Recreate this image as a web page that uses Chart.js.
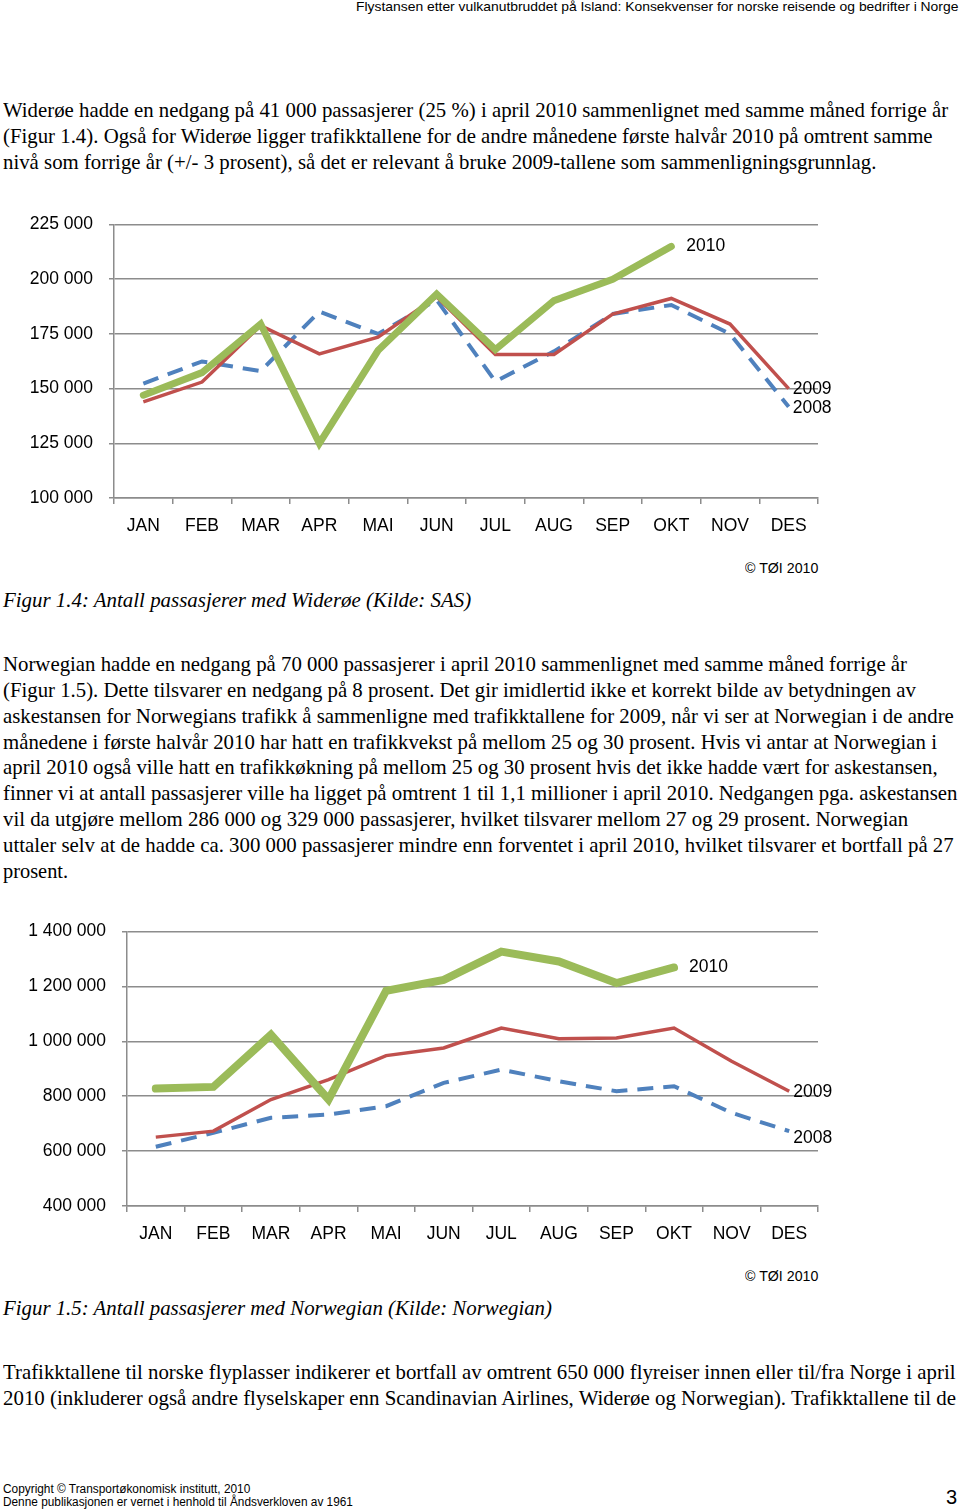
<!DOCTYPE html>
<html>
<head>
<meta charset="utf-8">
<script src="https://cdn.jsdelivr.net/npm/chart.js@4.4.1/dist/chart.umd.min.js"></script>
<style>
  body { margin: 0; background: #fff; width: 960px; height: 1512px; position: relative; overflow: hidden; }
  .t { position: absolute; left: 3px; white-space: nowrap; font-family: "Liberation Serif", "Times New Roman", serif; font-size: 21px; line-height: 21px; color: #000; transform-origin: 0 50%; }
  .cap { font-style: italic; }
  .s { position: absolute; white-space: nowrap; font-family: "Liberation Sans", Arial, sans-serif; color: #000; transform-origin: 0 50%; }
  .box { position: absolute; left: 0; width: 860px; }
</style>
</head>
<body>
<div class="s" style="left:356px;top:0px;font-size:13px;line-height:14px" data-w="602">Flystansen etter vulkanutbruddet på Island: Konsekvenser for norske reisende og bedrifter i Norge</div>

<div class="t" style="top:100px" data-w="945">Widerøe hadde en nedgang på 41 000 passasjerer (25 %) i april 2010 sammenlignet med samme måned forrige år</div>
<div class="t" style="top:126px" data-w="930">(Figur 1.4). Også for Widerøe ligger trafikktallene for de andre månedene første halvår 2010 på omtrent samme</div>
<div class="t" style="top:152px" data-w="873">nivå som forrige år (+/- 3 prosent), så det er relevant å bruke 2009-tallene som sammenligningsgrunnlag.</div>

<div class="box" style="top:197.5px;height:342.5px"><canvas id="chart1"></canvas></div>
<div class="s" style="left:745px;top:560px;font-size:14px;line-height:16px" data-w="73">© TØI 2010</div>
<div class="t cap" style="top:590px" data-w="468">Figur 1.4: Antall passasjerer med Widerøe (Kilde: SAS)</div>

<div class="t" style="top:654px" data-w="904">Norwegian hadde en nedgang på 70 000 passasjerer i april 2010 sammenlignet med samme måned forrige år</div>
<div class="t" style="top:680px" data-w="913">(Figur 1.5). Dette tilsvarer en nedgang på 8 prosent. Det gir imidlertid ikke et korrekt bilde av betydningen av</div>
<div class="t" style="top:706px" data-w="951">askestansen for Norwegians trafikk å sammenligne med trafikktallene for 2009, når vi ser at Norwegian i de andre</div>
<div class="t" style="top:732px" data-w="934">månedene i første halvår 2010 har hatt en trafikkvekst på mellom 25 og 30 prosent. Hvis vi antar at Norwegian i</div>
<div class="t" style="top:757px" data-w="935">april 2010 også ville hatt en trafikkøkning på mellom 25 og 30 prosent hvis det ikke hadde vært for askestansen,</div>
<div class="t" style="top:783px" data-w="954">finner vi at antall passasjerer ville ha ligget på omtrent 1 til 1,1 millioner i april 2010. Nedgangen pga. askestansen</div>
<div class="t" style="top:809px" data-w="905">vil da utgjøre mellom 286 000 og 329 000 passasjerer, hvilket tilsvarer mellom 27 og 29 prosent. Norwegian</div>
<div class="t" style="top:835px" data-w="951">uttaler selv at de hadde ca. 300 000 passasjerer mindre enn forventet i april 2010, hvilket tilsvarer et bortfall på 27</div>
<div class="t" style="top:861px" data-w="65">prosent.</div>

<div class="box" style="top:905px;height:345px"><canvas id="chart2"></canvas></div>
<div class="s" style="left:745px;top:1268px;font-size:14px;line-height:16px" data-w="73">© TØI 2010</div>
<div class="t cap" style="top:1298px" data-w="549">Figur 1.5: Antall passasjerer med Norwegian (Kilde: Norwegian)</div>

<div class="t" style="top:1362px" data-w="952">Trafikktallene til norske flyplasser indikerer et bortfall av omtrent 650 000 flyreiser innen eller til/fra Norge i april</div>
<div class="t" style="top:1388px" data-w="953">2010 (inkluderer også andre flyselskaper enn Scandinavian Airlines, Widerøe og Norwegian). Trafikktallene til de</div>

<div class="s" style="left:3px;top:1483px;font-size:12px;line-height:13px" data-w="247">Copyright © Transportøkonomisk institutt, 2010</div>
<div class="s" style="left:3px;top:1496px;font-size:12px;line-height:13px" data-w="350">Denne publikasjonen er vernet i henhold til Åndsverkloven av 1961</div>
<div class="s" style="left:946px;top:1487px;font-size:20px;line-height:20px">3</div>

<script>
'use strict';
// text lines are squeezed to the measured widths of the scanned page
document.querySelectorAll('[data-w]').forEach(function(el){
  let w = +el.dataset.w
  el.style.transform = 'scaleX(' + (w / el.offsetWidth) + ')'
})

let months = ['JAN','FEB','MAR','APR','MAI','JUN','JUL','AUG','SEP','OKT','NOV','DES']

// Figur 1.4 Widerøe
let wf2008 = [152300,162400,158000,185200,175000,190500,153300,167000,184100,188200,175000,141700]
let wf2009 = [143900,153000,178800,165900,173500,192000,165600,165600,184100,191200,179500,150000]
let wf2010 = [147000,157300,179500,125000,167400,193200,167800,190200,200000,215000,null,null]
let wfTicks = [100000, 225000, 25000]

// Figur 1.5 Norwegian
let dy2008 = [615800,666700,721200,733300,763600,848500,897000,854500,818200,836400,739400,672700]
let dy2009 = [650900,672700,787900,860600,947900,975800,1048500,1009700,1012100,1048500,927300,818200]
let dy2010 = [827900,833900,1024000,787900,1184200,1224000,1327000,1290900,1212100,1269000,null,null]
let dyTicks = [400000, 1400000, 200000]

let green = '#9bbb59'
let red = '#c0504d'
let blue = '#4f81bd'
let gridGray = '#8c8c8c'
let tickFont = { family: '"Liberation Sans", Arial, sans-serif', size: 17.5 }

function spaced(v){
  return String(v).replace(/\B(?=(\d{3})+(?!\d))/g, ' ')
}

// writes the year next to the last point of each line
const endLabels = {
  id: 'endLabels',
  afterDatasetsDraw(chart){
    let ctx = chart.ctx
    ctx.save()
    ctx.font = '17.5px "Liberation Sans", Arial, sans-serif'
    ctx.fillStyle = '#000'
    ctx.textBaseline = 'middle'
    ctx.textAlign = 'left'
    chart.data.datasets.forEach(function(ds, i){
      let last = -1
      for(let k = 0; k < ds.data.length; k++){
        if(ds.data[k] !== null) last = k
      }
      let pt = chart.getDatasetMeta(i).data[last]
      ctx.fillText(ds.label, pt.x + ds.labelDx, pt.y + ds.labelDy)
    })
    ctx.restore()
  }
}

function makeChart(id, d2008, d2009, d2010, ticks, yWidth, xHeight, xPad, green2010Width, dy2008Label){
  return new Chart(document.getElementById(id), {
    type: 'line',
    data: {
      labels: months,
      datasets: [
        { label: '2010', data: d2010, borderColor: green, borderWidth: green2010Width, pointRadius: 0, tension: 0, spanGaps: false, borderCapStyle: 'round', borderJoinStyle: 'miter', labelDx: 15, labelDy: 0 },
        { label: '2009', data: d2009, borderColor: red, borderWidth: 3.5, pointRadius: 0, tension: 0, labelDx: 4, labelDy: 1 },
        { label: '2008', data: d2008, borderColor: blue, borderWidth: 4, borderDash: [16, 10], pointRadius: 0, tension: 0, labelDx: 4, labelDy: dy2008Label }
      ]
    },
    options: {
      responsive: true,
      maintainAspectRatio: false,
      animation: false,
      layout: { padding: { top: 0, right: 42, bottom: 0, left: 0 } },
      plugins: { legend: { display: false }, tooltip: { enabled: false } },
      scales: {
        x: {
          offset: true,
          grid: { offset: true, drawOnChartArea: false, drawTicks: true, tickLength: 6, color: gridGray, lineWidth: 1.5 },
          border: { display: true, color: gridGray, width: 1.5 },
          ticks: { font: tickFont, color: '#000', padding: xPad, maxRotation: 0 },
          afterFit: function(s){ s.height = xHeight }
        },
        y: {
          min: ticks[0],
          max: ticks[1],
          grid: { color: gridGray, lineWidth: 1.5, tickLength: 5 },
          border: { display: true, color: gridGray, width: 1.5 },
          ticks: { stepSize: ticks[2], font: tickFont, color: '#000', padding: 16, callback: function(v){ return spaced(v) } },
          afterFit: function(s){ s.width = yWidth }
        }
      }
    },
    plugins: [endLabels]
  })
}

makeChart('chart1', wf2008, wf2009, wf2010, wfTicks, 114, 42.5, 12, 7, 1)
makeChart('chart2', dy2008, dy2009, dy2010, dyTicks, 127, 44, 11.5, 8, 7)
</script>
</body>
</html>
